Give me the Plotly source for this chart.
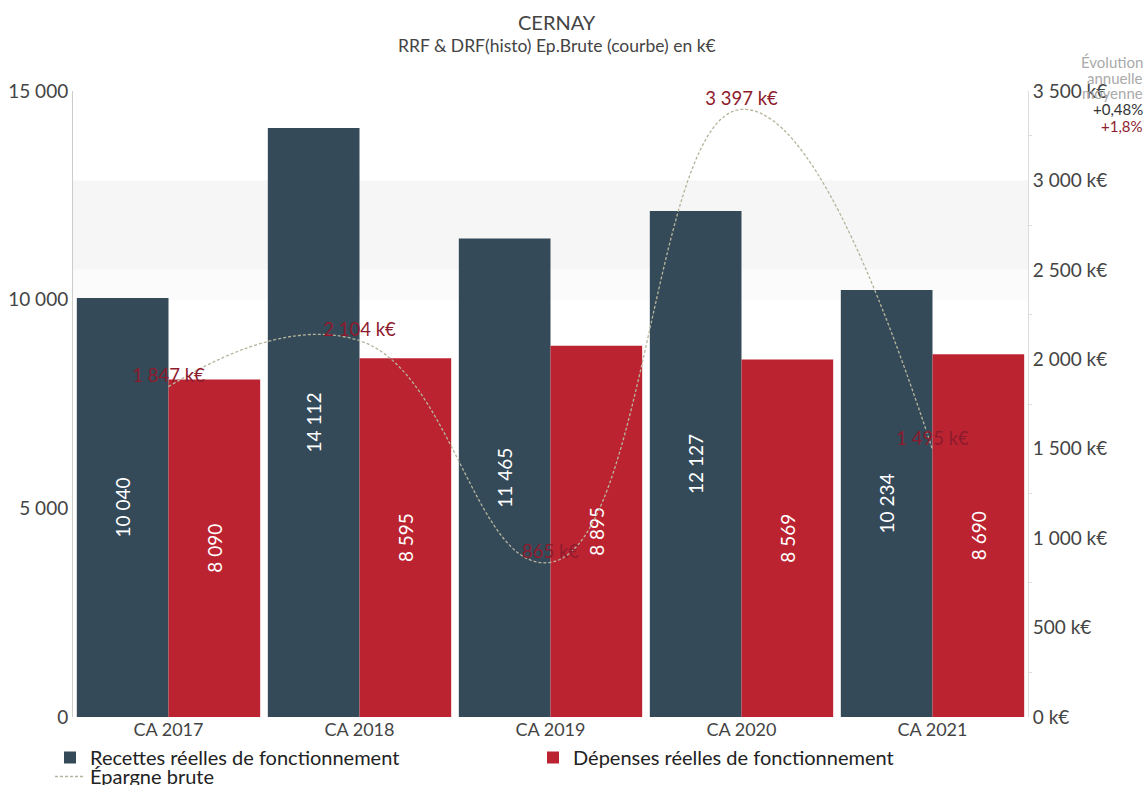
import plotly.graph_objects as go

categories = ["CA 2017", "CA 2018", "CA 2019", "CA 2020", "CA 2021"]
recettes = [10040, 14112, 11465, 12127, 10234]
depenses = [8090, 8595, 8895, 8569, 8690]
epargne = [1847, 2104, 865, 3397, 1495]
evol_title = ["Évolution", "annuelle", "moyenne"]
evol_labels = ["+0,48%", "+1,8%"]

FONT = "Lato"
C_REC = "#344a59"
C_DEP = "#bc2331"
C_EP = "#b7b49c"
C_LAB = "#8e1b2d"

W, H = 1147, 785
ML, MR, MT, MB = 73, 119, 91, 68
PW, PH = W - ML - MR, H - MT - MB

def px_x(x):
    return (x - ML) / PW

def px_y(y):
    return (H - MB - y) / PH

def fmt(v):
    return f"{v:,}".replace(",", " ")

fig = go.Figure()
fig.add_trace(go.Bar(
    x=categories, y=recettes, name="Recettes réelles de fonctionnement",
    marker=dict(color=C_REC, line=dict(width=0)),
    text=[fmt(v) for v in recettes], textposition="inside", insidetextanchor="middle",
    textangle=-90, textfont=dict(color="white", size=19, family=FONT),
    legend="legend",
))
fig.add_trace(go.Bar(
    x=categories, y=depenses, name="Dépenses réelles de fonctionnement",
    marker=dict(color=C_DEP, line=dict(width=0)),
    text=[fmt(v) for v in depenses], textposition="inside", insidetextanchor="middle",
    textangle=-90, textfont=dict(color="white", size=19, family=FONT),
    legend="legend",
))
fig.add_trace(go.Scatter(
    x=categories, y=epargne, name="Épargne brute", yaxis="y2",
    mode="lines+text", line=dict(color=C_EP, width=1.3, dash="3px,2px", shape="spline", smoothing=1.3),
    text=[fmt(v) + " k€" for v in epargne], textposition="top center",
    textfont=dict(color=C_LAB, size=18.5, family=FONT),
    legend="legend2", cliponaxis=False,
))

# light background bands
fig.add_shape(type="rect", xref="paper", yref="y2", x0=0, x1=1, y0=2500, y1=3000,
              fillcolor="#f6f6f6", line=dict(width=0), layer="below")
fig.add_shape(type="rect", xref="paper", yref="y2", x0=0, x1=1, y0=2330, y1=2500,
              fillcolor="#fbfbfb", line=dict(width=0), layer="below")

fig.update_layout(
    width=W, height=H,
    margin=dict(l=ML, r=MR, t=MT, b=MB, autoexpand=False),
    paper_bgcolor="white", plot_bgcolor="white",
    font=dict(family=FONT, color="#444", size=18),
    separators=", ",
    barmode="group", bargap=0.04, bargroupgap=0,
    xaxis=dict(showgrid=False, showline=False, ticks="", tickfont=dict(size=18, color="#444")),
    yaxis=dict(range=[0, 15000], dtick=5000, showgrid=False, zeroline=False,
               showline=True, linecolor="#cccccc", linewidth=1,
               tickformat=",d", tickfont=dict(size=19, color="#444")),
    yaxis2=dict(range=[0, 3500], dtick=500, overlaying="y", side="right", showgrid=False,
                zeroline=False, showline=True, linecolor="#dddddd", linewidth=1,
                tickformat=",d", ticksuffix=" k€", tickfont=dict(size=19, color="#444"),
                minor=dict(dtick=250, ticks="outside", ticklen=3, tickcolor="#dddddd")),
    legend=dict(orientation="h", x=px_x(50), xanchor="left", y=px_y(738), yanchor="top",
                entrywidth=438, itemwidth=30, font=dict(size=20, color="#222", family=FONT),
                traceorder="normal", bgcolor="rgba(0,0,0,0)"),
    legend2=dict(orientation="h", x=px_x(50), xanchor="left", y=px_y(757), yanchor="top",
                 itemwidth=30, font=dict(size=20, color="#222", family=FONT),
                 bgcolor="rgba(0,0,0,0)"),
    showlegend=True,
)

fig.add_annotation(xref="paper", yref="paper", x=px_x(557), y=px_y(22), text="CERNAY",
                   showarrow=False, xanchor="center", yanchor="middle",
                   font=dict(size=20, color="#444", family=FONT))
fig.add_annotation(xref="paper", yref="paper", x=px_x(557), y=px_y(45),
                   text="RRF & DRF(histo) Ep.Brute (courbe) en k€",
                   showarrow=False, xanchor="center", yanchor="middle",
                   font=dict(size=17.5, color="#444", family=FONT))

ys = [62, 78, 93]
for t, yy in zip(evol_title, ys):
    fig.add_annotation(xref="paper", yref="paper", x=px_x(1145), y=px_y(yy), text=t,
                       showarrow=False, xanchor="right", yanchor="middle",
                       font=dict(size=15, color="#aaaaaa", family=FONT))
for t, yy, c in zip(evol_labels, [109, 126], ["#333333", C_LAB]):
    fig.add_annotation(xref="paper", yref="paper", x=px_x(1145), y=px_y(yy), text=t,
                       showarrow=False, xanchor="right", yanchor="middle",
                       font=dict(size=15, color=c, family=FONT))

fig.write_html("out.html")
